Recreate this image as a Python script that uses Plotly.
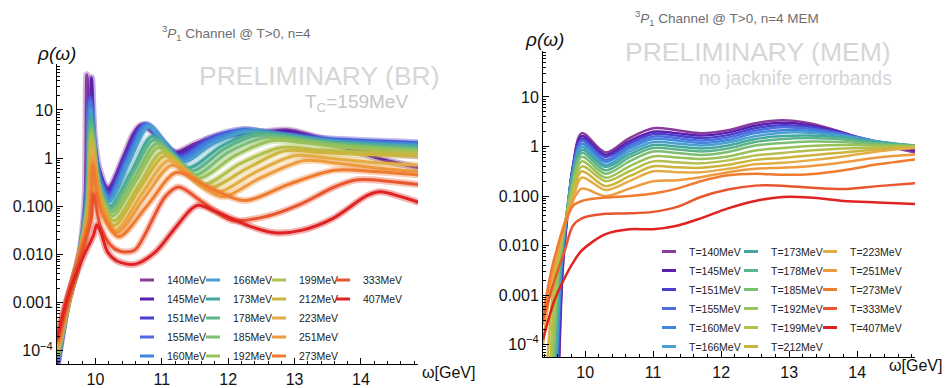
import plotly.graph_objects as go

W, H = 945, 388
FONT = "Liberation Sans, Arial, sans-serif"

# ---------------- data ----------------
T_MEV = [140, 145, 151, 155, 160, 166, 173, 178, 185, 192, 199, 212, 223, 251, 273, 333, 407]
COLORS = ["#8A3C9C", "#5A1FAE", "#4B3FCB", "#4E6CE0", "#3F86DC", "#4A9FCF", "#44A7A0",
          "#5CB48A", "#7DBE72", "#98C25A", "#B5BF4E", "#CDB43C", "#E3AC45", "#EE9A3F",
          "#EE7B30", "#E8552F", "#DF2222"]

# Left panel (BR): omega [GeV] and log10(rho)
BR_OMEGA = [
    [9.42,9.58,9.77,9.84,9.87,9.92,10.0,10.18,10.42,10.57,10.68,10.85,11.0,11.2,11.5,11.9,12.4,12.9,13.3,13.8,14.3,14.87],
    [9.42,9.58,9.77,9.9,9.94,9.98,10.05,10.2,10.44,10.6,10.72,10.88,11.05,11.22,11.5,11.9,12.4,12.9,13.3,13.8,14.3,14.87],
    [9.42,9.58,9.77,9.88,9.92,9.97,10.05,10.2,10.47,10.74,11.0,11.25,11.7,12.2,12.7,13.5,14.87],
    [9.42,9.58,9.77,9.88,9.92,9.97,10.05,10.2,10.48,10.76,11.02,11.27,11.72,12.22,12.7,13.5,14.87],
    [9.42,9.58,9.77,9.88,9.92,9.97,10.05,10.2,10.49,10.78,11.04,11.3,11.75,12.25,12.75,13.5,14.87],
    [9.42,9.58,9.77,9.89,9.93,9.98,10.06,10.21,10.5,10.8,11.06,11.32,11.78,12.28,12.8,13.5,14.87],
    [9.42,9.58,9.77,9.89,9.93,9.98,10.06,10.22,10.55,10.85,11.12,11.4,11.9,12.4,12.9,13.6,14.87],
    [9.42,9.58,9.77,9.89,9.93,9.98,10.06,10.23,10.57,10.88,11.16,11.45,11.95,12.45,12.95,13.6,14.87],
    [9.42,9.58,9.77,9.9,9.94,9.99,10.07,10.24,10.6,10.92,11.2,11.5,12.0,12.55,13.05,13.7,14.87],
    [9.42,9.58,9.77,9.9,9.94,9.99,10.07,10.25,10.62,10.95,11.25,11.55,12.1,12.65,13.15,13.8,14.87],
    [9.42,9.58,9.77,9.9,9.94,9.99,10.08,10.28,10.66,11.0,11.3,11.62,12.2,12.8,13.3,13.9,14.87],
    [9.42,9.58,9.77,9.91,9.95,10.0,10.09,10.28,10.68,11.05,11.36,11.7,12.3,12.85,13.35,13.95,14.87],
    [9.42,9.58,9.77,9.91,9.95,10.0,10.1,10.3,10.72,11.1,11.43,11.8,12.4,13.0,13.5,14.1,14.87],
    [9.42,9.58,9.77,9.92,9.96,10.01,10.11,10.32,10.75,11.15,11.5,11.9,12.5,13.15,13.6,14.2,14.87],
    [9.42,9.58,9.77,9.92,9.96,10.02,10.12,10.35,10.8,11.22,11.7,12.25,12.9,13.6,14.2,14.87],
    [9.42,9.58,9.77,9.93,9.97,10.08,10.27,10.45,10.6,11.05,11.25,11.6,12.05,12.6,13.1,13.6,13.95,14.4,14.87],
    [9.42,9.58,9.8,9.97,10.02,10.08,10.18,10.33,10.6,10.9,11.2,11.45,11.55,11.8,12.05,12.3,12.7,13.1,13.58,14.09,14.29,14.6,14.87],
]
BR_LOG10_RHO = [
    [-4.35,-3.0,-1.9,-0.9,1.73,0.35,-0.3,-0.63,0.02,0.5,0.68,0.55,0.3,0.12,0.3,0.48,0.52,0.58,0.45,0.25,0.12,0.05],
    [-4.3,-3.0,-2.0,-0.6,1.67,0.5,-0.2,-0.66,0.0,0.5,0.68,0.55,0.28,0.1,0.25,0.45,0.5,0.55,0.42,0.2,-0.02,-0.2],
    [-4.25,-3.0,-2.0,-0.7,1.3,0.3,-0.35,-0.73,0.05,0.7,0.35,0.05,0.4,0.59,0.5,0.4,0.32],
    [-4.2,-3.0,-2.0,-0.7,1.22,0.25,-0.4,-0.8,0.0,0.69,0.32,0.0,0.37,0.58,0.5,0.38,0.29],
    [-4.2,-3.0,-2.0,-0.75,1.1,0.2,-0.45,-0.85,-0.05,0.68,0.3,-0.04,0.34,0.57,0.49,0.36,0.27],
    [-4.15,-3.0,-2.0,-0.8,1.0,0.15,-0.5,-0.9,-0.1,0.65,0.28,-0.08,0.3,0.55,0.48,0.34,0.25],
    [-4.1,-3.0,-2.0,-0.85,0.85,0.0,-0.6,-1.0,-0.25,0.45,0.12,-0.2,0.25,0.52,0.45,0.32,0.22],
    [-4.1,-3.0,-2.0,-0.9,0.75,-0.05,-0.65,-1.05,-0.3,0.38,0.05,-0.27,0.2,0.48,0.42,0.3,0.2],
    [-4.1,-3.0,-2.0,-0.9,0.6,-0.15,-0.72,-1.12,-0.38,0.3,-0.02,-0.35,0.12,0.42,0.37,0.26,0.16],
    [-4.1,-3.0,-2.0,-0.95,0.5,-0.2,-0.8,-1.2,-0.45,0.22,-0.1,-0.42,0.05,0.36,0.32,0.22,0.13],
    [-4.0,-3.0,-2.0,-1.0,0.4,-0.3,-0.9,-1.3,-0.55,0.12,-0.2,-0.55,-0.1,0.22,0.18,0.13,0.1],
    [-4.0,-3.0,-2.0,-1.05,0.3,-0.35,-0.95,-1.4,-0.6,0.05,-0.28,-0.62,-0.2,0.15,0.12,0.08,0.05],
    [-3.95,-3.0,-2.0,-1.1,0.15,-0.45,-1.05,-1.5,-0.7,-0.05,-0.38,-0.72,-0.3,0.05,0.0,-0.08,-0.15],
    [-3.9,-3.0,-2.0,-1.15,0.0,-0.55,-1.1,-1.55,-0.8,-0.15,-0.45,-0.8,-0.4,-0.05,-0.1,-0.2,-0.28],
    [-3.85,-2.95,-2.0,-1.2,-0.15,-0.7,-1.2,-1.63,-0.95,-0.3,-0.6,-0.88,-0.55,-0.25,-0.28,-0.35],
    [-3.8,-2.9,-2.05,-1.3,-0.75,-1.45,-1.86,-1.95,-1.9,-0.8,-0.6,-0.9,-1.29,-1.2,-0.95,-0.6,-0.45,-0.48,-0.55],
    [-3.75,-2.9,-2.1,-1.6,-1.39,-1.53,-1.94,-2.14,-2.2,-1.95,-1.45,-1.05,-0.98,-1.1,-1.25,-1.4,-1.55,-1.5,-1.25,-0.78,-0.7,-0.8,-0.92],
]

# Right panel (MEM): steep low-omega rise (per series) + common omega grid
MEM_RISE_OMEGA = [
    [9.615,9.67,9.74,9.82], [9.61,9.665,9.735,9.815], [9.60,9.66,9.73,9.81], [9.59,9.65,9.725,9.81],
    [9.58,9.645,9.72,9.805], [9.57,9.64,9.715,9.80], [9.56,9.63,9.71,9.80], [9.55,9.62,9.705,9.80],
    [9.53,9.61,9.70,9.80], [9.51,9.60,9.695,9.80], [9.48,9.58,9.69,9.80], [9.44,9.56,9.68,9.80],
    [9.38,9.52,9.66,9.80], [9.38,9.52,9.66,9.80], [9.38,9.52,9.67,9.82], [9.38,9.55,9.70,9.82],
    [9.38,9.55,9.70,9.82],
]
MEM_RISE_LOG10_RHO = [
    [-4.5,-2.5,-1.4,-0.4], [-4.5,-2.5,-1.42,-0.45], [-4.5,-2.5,-1.45,-0.5], [-4.5,-2.5,-1.47,-0.55],
    [-4.5,-2.5,-1.5,-0.6], [-4.5,-2.5,-1.52,-0.66], [-4.5,-2.5,-1.55,-0.72], [-4.5,-2.5,-1.57,-0.78],
    [-4.5,-2.5,-1.6,-0.85], [-4.5,-2.5,-1.62,-0.93], [-4.5,-2.5,-1.65,-1.02], [-4.4,-2.5,-1.7,-1.1],
    [-4.0,-2.6,-1.75,-1.2], [-3.6,-2.5,-1.7,-1.15], [-3.4,-2.4,-1.7,-1.2], [-3.5,-2.7,-2.1,-1.6],
    [-3.9,-3.1,-2.65,-2.35],
]
MEM_OMEGA_GRID = [9.95, 10.3, 10.65, 11.0, 11.35, 11.7, 12.1, 12.5, 12.9, 13.3, 13.8, 14.3, 14.85]
MEM_LOG10_RHO = [
    [0.27,-0.12,0.17,0.37,0.33,0.27,0.33,0.47,0.53,0.47,0.28,0.06,-0.12],
    [0.21,-0.17,0.11,0.30,0.27,0.22,0.28,0.42,0.48,0.43,0.27,0.07,-0.08],
    [0.16,-0.21,0.06,0.25,0.22,0.17,0.23,0.37,0.43,0.40,0.26,0.09,-0.04],
    [0.11,-0.27,0.01,0.20,0.17,0.12,0.18,0.32,0.39,0.36,0.25,0.10,-0.02],
    [0.05,-0.31,-0.04,0.15,0.12,0.07,0.13,0.27,0.33,0.32,0.23,0.10,0.00],
    [-0.01,-0.37,-0.10,0.09,0.06,0.02,0.08,0.21,0.28,0.28,0.21,0.10,0.01],
    [-0.07,-0.41,-0.16,0.03,0.00,-0.04,0.02,0.15,0.21,0.22,0.18,0.09,0.02],
    [-0.13,-0.48,-0.22,-0.03,-0.06,-0.10,-0.04,0.09,0.15,0.17,0.14,0.07,0.02],
    [-0.21,-0.55,-0.30,-0.10,-0.13,-0.17,-0.11,0.02,0.07,0.10,0.09,0.04,0.01],
    [-0.30,-0.63,-0.40,-0.20,-0.22,-0.25,-0.20,-0.08,-0.03,0.01,0.03,0.02,0.00],
    [-0.40,-0.70,-0.50,-0.30,-0.32,-0.34,-0.28,-0.18,-0.13,-0.08,-0.04,-0.02,0.00],
    [-0.50,-0.80,-0.60,-0.40,-0.42,-0.43,-0.37,-0.27,-0.23,-0.18,-0.12,-0.06,-0.03],
    [-0.63,-0.88,-0.70,-0.50,-0.52,-0.52,-0.45,-0.36,-0.33,-0.28,-0.20,-0.10,-0.02],
    [-0.85,-1.00,-0.85,-0.70,-0.68,-0.62,-0.52,-0.45,-0.43,-0.40,-0.32,-0.22,-0.16],
    [-1.10,-1.03,-1.00,-0.95,-0.85,-0.70,-0.58,-0.55,-0.57,-0.56,-0.48,-0.36,-0.26],
    [-1.45,-1.36,-1.35,-1.32,-1.22,-1.02,-0.87,-0.79,-0.79,-0.83,-0.86,-0.80,-0.74],
    [-2.10,-1.77,-1.67,-1.67,-1.60,-1.45,-1.25,-1.10,-1.02,-1.03,-1.10,-1.13,-1.16],
]

# legend column layout (indices into T_MEV)
BR_LEGEND_COLS = [[0, 1, 2, 3, 4], [5, 6, 7, 8, 9], [10, 11, 12, 13, 14], [15, 16]]
MEM_LEGEND_COLS = [[0, 1, 2, 3, 4, 5], [6, 7, 8, 9, 10, 11], [12, 13, 14, 15, 16]]

Y_TICKVALS = [1e-4, 1e-3, 1e-2, 1e-1, 1, 10]
Y_TICKTEXT = ["10<sup>\u22124</sup>", "0.001", "0.010", "0.100", "1", "10"]
X_TICKVALS = [10, 11, 12, 13, 14]

# ---------------- figure ----------------
fig = go.Figure()

for i, t in enumerate(T_MEV):
    fig.add_trace(go.Scatter(
        x=BR_OMEGA[i], y=[10 ** v for v in BR_LOG10_RHO[i]], mode="lines",
        line=dict(color=COLORS[i], width=7, shape="spline", smoothing=0.9),
        opacity=0.35, showlegend=False, hoverinfo="skip", xaxis="x", yaxis="y"))
    fig.add_trace(go.Scatter(
        x=BR_OMEGA[i], y=[10 ** v for v in BR_LOG10_RHO[i]], mode="lines",
        line=dict(color=COLORS[i], width=3, shape="spline", smoothing=0.9),
        showlegend=False, name=f"{t}MeV", xaxis="x", yaxis="y"))

for i, t in enumerate(T_MEV):
    xs = MEM_RISE_OMEGA[i] + MEM_OMEGA_GRID
    ys = MEM_RISE_LOG10_RHO[i] + MEM_LOG10_RHO[i]
    fig.add_trace(go.Scatter(
        x=xs, y=[10 ** v for v in ys], mode="lines",
        line=dict(color=COLORS[i], width=2.5, shape="spline", smoothing=0.9),
        showlegend=False, name=f"T={t}MeV", xaxis="x2", yaxis="y2"))


def legend_entry(i, label, lname, xa, ya):
    fig.add_trace(go.Scatter(
        x=[None], y=[None], mode="markers", name=label,
        marker=dict(symbol="line-ew", size=10, line=dict(width=3, color=COLORS[i])),
        legend=lname, showlegend=True, hoverinfo="skip", xaxis=xa, yaxis=ya))


legend_names = []
for c, col in enumerate(BR_LEGEND_COLS):
    lname = "legend" if c == 0 else f"legend{c + 1}"
    legend_names.append(lname)
    for i in col:
        legend_entry(i, f"{T_MEV[i]}MeV", lname, "x", "y")
for c, col in enumerate(MEM_LEGEND_COLS):
    lname = f"legend{c + 5}"
    legend_names.append(lname)
    for i in col:
        legend_entry(i, f"T={T_MEV[i]}MeV", lname, "x2", "y2")

LEG_POS = [(127, 271), (193, 271), (259, 271), (323, 271), (649, 242), (731, 242), (810, 242)]
legend_layout = {}
for lname, (px, py) in zip(legend_names, LEG_POS):
    legend_layout[lname] = dict(
        x=px / W, y=1 - py / H, xanchor="left", yanchor="top", orientation="v",
        bgcolor="rgba(0,0,0,0)", borderwidth=0, tracegroupgap=0, itemwidth=30,
        font=dict(family=FONT, size=10.5, color="#222"))

minor_y = [k * 10 ** d for d in range(-5, 2) for k in range(2, 10)]


def yaxis(domain, rng, anchor):
    return dict(type="log", domain=domain, range=rng, anchor=anchor,
                showline=True, linecolor="#000", linewidth=1, showgrid=False, zeroline=False,
                ticks="inside", ticklen=6, tickcolor="#000", tickwidth=1,
                tickvals=Y_TICKVALS, ticktext=Y_TICKTEXT,
                tickfont=dict(family=FONT, size=16, color="#111"),
                minor=dict(tickvals=minor_y, ticks="inside", ticklen=3, tickcolor="#000", showgrid=False))


def xaxis(domain, rng, anchor):
    return dict(domain=domain, range=rng, anchor=anchor,
                showline=True, linecolor="#000", linewidth=1, showgrid=False, zeroline=False,
                ticks="inside", ticklen=6, tickcolor="#000", tickwidth=1,
                tickvals=X_TICKVALS, tickfont=dict(family=FONT, size=16, color="#111"),
                minor=dict(dtick=0.2, tick0=0, ticks="inside", ticklen=3, tickcolor="#000", showgrid=False))


fig.update_layout(
    width=W, height=H, margin=dict(l=0, r=0, t=0, b=0),
    paper_bgcolor="white", plot_bgcolor="white",
    xaxis=xaxis([57 / W, 418 / W], [9.42, 14.86], "y"),
    yaxis=yaxis([1 - 372 / H, 1 - 65 / H], [-4.28, 1.96], "x"),
    xaxis2=xaxis([543 / W, 915 / W], [9.38, 14.85], "y2"),
    yaxis2=yaxis([1 - 365 / H, 1 - 52 / H], [-4.26, 1.93], "x2"),
    **legend_layout,
)


def ann(text, xpx, ypx, size, color, xanchor="center", italic=False):
    fig.add_annotation(text=text, x=xpx / W, y=1 - ypx / H, xref="paper", yref="paper",
                       xanchor=xanchor, yanchor="middle", showarrow=False,
                       font=dict(family=FONT, size=size, color=color,
                                 style="italic" if italic else "normal"))


ann("<sup>3</sup><i>P</i><sub>1</sub> Channel @ T>0, n=4", 236, 34, 13.5, "#6e6e6e")
ann("<sup>3</sup><i>P</i><sub>1</sub> Channel @ T>0, n=4 MEM", 727, 18, 13.5, "#6e6e6e")
ann("\u03c1(\u03c9)", 56, 55, 19, "#111", italic=True)
ann("\u03c1(\u03c9)", 544, 40, 19, "#111", italic=True)
ann("PRELIMINARY (BR)", 319, 78, 26.5, "#d6d6d6")
ann("T<sub>C</sub>=159MeV", 356, 105, 19, "#c6c6c6")
ann("PRELIMINARY (MEM)", 758, 53, 26.5, "#d6d6d6")
ann("no jacknife errorbands", 795, 80, 19.5, "#d6d6d6")
ann("\u03c9[GeV]", 420, 380, 16, "#111", xanchor="left")
ann("\u03c9[GeV]", 887, 373, 16, "#111", xanchor="left")

fig.write_html("out.html")
